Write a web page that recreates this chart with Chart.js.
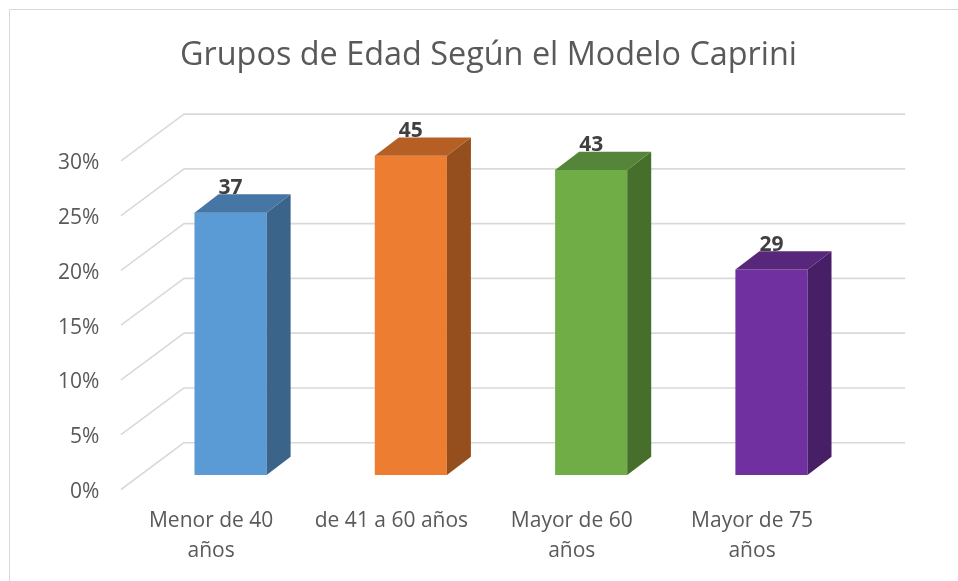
<!DOCTYPE html>
<html lang="es">
<head>
<meta charset="utf-8">
<title>Grupos de Edad Según el Modelo Caprini</title>
<script src="https://cdn.jsdelivr.net/npm/chart.js@4"></script>
<style>
html,body{margin:0;padding:0;background:#fff;overflow:hidden}
#wrap{position:relative;width:958px;height:581px}
canvas{display:block}
</style>
</head>
<body>
<div id="wrap"><canvas id="c" width="958" height="581"></canvas></div>
<script>
const titleText = "Grupos de Edad Según el Modelo Caprini";
const categories = [["Menor de 40","años"],"de 41 a 60 años",["Mayor de 60","años"],["Mayor de 75","años"]];
const percentValues = [23.95, 29.15, 27.85, 18.75];
const countLabels = ["37","45","43","29"];
const frontColors = ["#5B9BD5","#ED7D31","#70AD47","#7030A0"];
const topColors = ["#4676A3","#B55F25","#558538","#56277B"];
const sideColors = ["#3A6489","#954F1E","#466F2C","#461F66"];

const FONT = "'Open Sans', sans-serif";
const DEPTH_X = 24, DEPTH_Y = 18.3;
const FRONT_DX = -19.4, FRONT_DY = 14.5, BACK_DX = 43.6, BACK_DY = -32.3;
const GRID = "#D9D9D9";

const scene = {
  id: "scene",
  beforeDraw(chart) {
    const c = chart.ctx;
    c.save();
    c.strokeStyle = GRID; c.lineWidth = 1;
    c.beginPath();
    c.moveTo(9.5, 581); c.lineTo(9.5, 9.5); c.lineTo(958, 9.5);
    c.stroke();
    c.restore();
  },
  beforeDatasetsDraw(chart) {
    const c = chart.ctx, y = chart.scales.y, a = chart.chartArea;
    c.save();
    c.strokeStyle = GRID; c.lineWidth = 1.6; c.lineJoin = "round";
    y.ticks.forEach(t => {
      const p = y.getPixelForValue(t.value);
      c.beginPath();
      c.moveTo(a.left + FRONT_DX, p + FRONT_DY);
      c.lineTo(a.left + BACK_DX, p + BACK_DY);
      c.lineTo(a.right + BACK_DX, p + BACK_DY);
      c.stroke();
    });
    c.restore();
  },
  afterDatasetsDraw(chart) {
    const c = chart.ctx;
    const bars = chart.getDatasetMeta(0).data;
    c.save();
    bars.forEach((b, i) => {
      const l = b.x - b.width / 2, r = b.x + b.width / 2;
      c.fillStyle = sideColors[i];
      c.beginPath();
      c.moveTo(r, b.y); c.lineTo(r + DEPTH_X, b.y - DEPTH_Y);
      c.lineTo(r + DEPTH_X, b.base - DEPTH_Y); c.lineTo(r, b.base);
      c.closePath(); c.fill();
      c.fillStyle = topColors[i];
      c.beginPath();
      c.moveTo(l, b.y); c.lineTo(l + DEPTH_X, b.y - DEPTH_Y);
      c.lineTo(r + DEPTH_X, b.y - DEPTH_Y); c.lineTo(r, b.y);
      c.closePath(); c.fill();
    });
    c.fillStyle = "#404040";
    c.font = "bold 21px " + FONT;
    c.textAlign = "center"; c.textBaseline = "middle";
    bars.forEach((b, i) => c.fillText(countLabels[i], b.x, b.y - 24.7));
    c.restore();
  }
};

new Chart(document.getElementById("c"), {
  type: "bar",
  data: {
    labels: categories,
    datasets: [{
      data: percentValues,
      backgroundColor: frontColors,
      borderWidth: 0,
      barPercentage: 0.4,
      categoryPercentage: 1
    }]
  },
  plugins: [scene],
  options: {
    responsive: false,
    animation: false,
    layout: { padding: { left: 19, right: 0, top: 0, bottom: 0 } },
    plugins: {
      legend: { display: false },
      tooltip: { enabled: false },
      title: {
        display: true,
        text: titleText,
        color: "#595959",
        font: { family: FONT, size: 32.4, weight: "normal", lineHeight: 1.2 },
        padding: { top: 36, bottom: 71.5 }
      }
    },
    scales: {
      x: {
        grid: { display: false },
        border: { display: false },
        afterFit(s) { s.height = 106; },
        ticks: {
          color: "#595959",
          font: { family: FONT, size: 21, lineHeight: 1.43 },
          autoSkip: false, maxRotation: 0, minRotation: 0,
          padding: 23,
          labelOffset: FRONT_DX
        }
      },
      y: {
        min: 0, max: 30,
        grid: { display: false },
        border: { display: false },
        afterFit(s) { s.width = 121.4; },
        ticks: {
          stepSize: 5,
          color: "#595959",
          font: { family: FONT, size: 21 },
          padding: 33,
          labelOffset: 17,
          callback: v => v + "%"
        }
      },
      spacer: {
        position: "right",
        grid: { display: false },
        border: { display: false },
        ticks: { display: false },
        afterFit(s) { s.width = 96.4; }
      }
    }
  }
});
</script>
</body>
</html>
